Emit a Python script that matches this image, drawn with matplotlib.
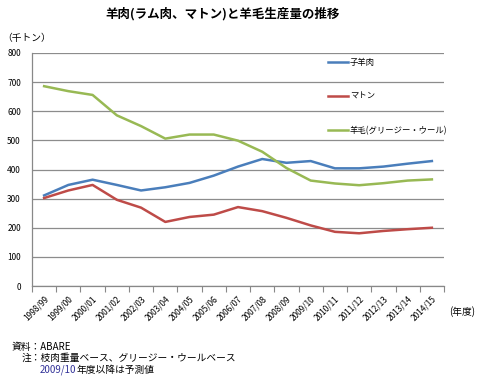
import matplotlib
matplotlib.use("Agg")
import matplotlib.pyplot as plt

plt.rcParams['font.family'] = ['Noto Sans CJK JP', 'DejaVu Sans']

years = ["1998/99", "1999/00", "2000/01", "2001/02", "2002/03", "2003/04", "2004/05",
         "2005/06", "2006/07", "2007/08", "2008/09", "2009/10", "2010/11", "2011/12",
         "2012/13", "2013/14", "2014/15"]
lamb = [311, 347, 365, 347, 328, 339, 354, 379, 410, 436, 423, 429, 404, 404, 410, 420, 429]
mutton = [302, 328, 347, 296, 269, 220, 237, 245, 271, 257, 234, 208, 186, 181, 189, 195, 200]
wool = [686, 669, 656, 586, 549, 506, 520, 520, 499, 461, 405, 362, 352, 346, 353, 362, 366]
series_names = ["子羊肉", "マトン", "羊毛(グリージー・ウール)"]
colors = ["#4A7EBB", "#BE4B48", "#98B954"]
yticks = [0, 100, 200, 300, 400, 500, 600, 700, 800]

fig = plt.figure(figsize=(4.85, 3.8), dpi=100)
ax = fig.add_axes([32/485, 1-286/380, (444-32)/485, (286-53)/380])

x = list(range(len(years)))
for vals, name, c in zip([lamb, mutton, wool], series_names, colors):
    ax.plot(x, vals, color=c, lw=1.8, label=name)

ax.set_xlim(-0.5, len(years)-0.5)
ax.set_ylim(0, 800)
ax.set_yticks(yticks)
ax.set_yticklabels([str(v) for v in yticks], fontsize=6)
ax.yaxis.grid(True, color="#8C8C8C", lw=0.9)
ax.set_axisbelow(True)
ax.tick_params(axis='y', length=0, pad=8)

ax.set_xticks([i - 0.5 for i in range(len(years)+1)], minor=False)
ax.set_xticklabels([])
ax.set_xticks(x, minor=True)
ax.set_xticklabels(years, minor=True, rotation=45, ha='right', va='top',
                   rotation_mode='anchor', fontsize=6)
ax.tick_params(axis='x', which='major', length=4, color="#888888", direction='out')
ax.tick_params(axis='x', which='minor', length=0, pad=6)

for s in ['top', 'right']:
    ax.spines[s].set_visible(False)
for s in ['left', 'bottom']:
    ax.spines[s].set_color("#888888")
    ax.spines[s].set_linewidth(0.9)

leg = fig.legend(loc='upper left', bbox_to_anchor=(328/485, 1-58/380), frameon=False,
                 fontsize=6, labelspacing=3.0, handlelength=2.4, handletextpad=0.2,
                 borderpad=0, borderaxespad=0)

fig.text(223/485, 1-14/380, "羊肉(ラム肉、マトン)と羊毛生産量の推移", ha='center', va='center',
         fontsize=9, fontweight='bold')
fig.text(2/485, 1-38/380, "（千トン）", ha='left', va='center', fontsize=7)
fig.text(449/485, 1-312/380, "(年度)", ha='left', va='center', fontsize=7)

fig.text(12/485, 1-347/380, "資料：ABARE", ha='left', va='center', fontsize=7)
fig.text(22/485, 1-358/380, "注：枝肉重量ベース、グリージー・ウールベース", ha='left', va='center', fontsize=7)
t = fig.text(40/485, 1-370/380, "2009/10", ha='left', va='center', fontsize=7, color="#333399")
fig.canvas.draw()
bb = t.get_window_extent()
fig.text(bb.x1/fig.bbox.width, 1-370/380, "年度以降は予測値", ha='left', va='center', fontsize=7)

fig.savefig("out.png", dpi=100)
